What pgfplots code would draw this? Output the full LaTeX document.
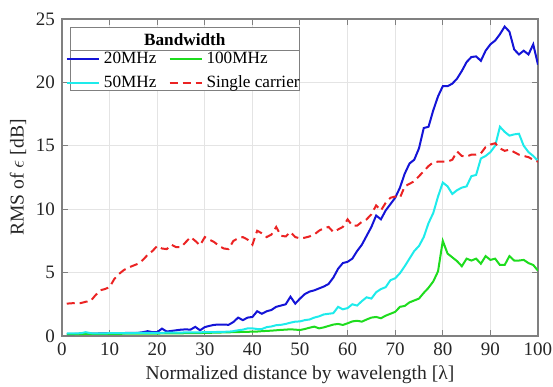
\documentclass[border=0pt]{standalone}
\usepackage{pgfplots}
\pgfplotsset{compat=1.18}
\usepackage{fontspec}
\setmainfont{Liberation Serif}
\definecolor{cBlue}{RGB}{20,20,215}
\definecolor{cCyan}{RGB}{30,235,235}
\definecolor{cGreen}{RGB}{30,220,30}
\definecolor{cRed}{RGB}{235,35,35}
\definecolor{cAxis}{RGB}{128,128,128}
\definecolor{cGrid}{RGB}{228,228,228}
\definecolor{cText}{RGB}{38,38,38}

\pgfplotstableread{
x y
1 0.15
2 0.15
3 0.16
4 0.17
5 0.18
6 0.18
7 0.19
8 0.20
9 0.20
10 0.22
11 0.20
12 0.22
13 0.23
14 0.25
15 0.25
16 0.25
17 0.30
18 0.38
19 0.30
20 0.30
21 0.58
22 0.35
23 0.40
24 0.45
25 0.50
26 0.52
27 0.50
28 0.72
29 0.45
30 0.70
31 0.80
32 0.88
33 0.90
34 0.90
35 0.88
36 1.10
37 1.45
38 1.25
39 1.45
40 1.50
41 1.95
42 1.75
43 1.95
44 2.05
45 2.30
46 2.40
47 2.50
48 3.10
49 2.55
50 2.95
51 3.30
52 3.50
53 3.60
54 3.75
55 3.90
56 4.10
57 4.60
58 5.30
59 5.75
60 5.85
61 6.10
62 6.70
63 7.20
64 7.90
65 8.60
66 9.50
67 9.20
68 9.90
69 10.40
70 10.90
71 11.70
72 12.80
73 13.60
74 13.90
75 14.80
76 16.40
77 16.50
78 17.80
79 18.90
80 19.70
81 19.70
82 19.90
83 20.30
84 20.90
85 21.60
86 22.00
87 22.05
88 21.70
89 22.50
90 23.00
91 23.30
92 23.80
93 24.40
94 24.00
95 22.60
96 22.20
97 22.50
98 22.20
99 23.00
100 21.40
}\tblue

\pgfplotstableread{
x y
1 0.20
2 0.20
3 0.21
4 0.22
5 0.30
6 0.22
7 0.20
8 0.21
9 0.21
10 0.22
11 0.22
12 0.22
13 0.23
14 0.23
15 0.23
16 0.24
17 0.24
18 0.24
19 0.25
20 0.25
21 0.25
22 0.26
23 0.26
24 0.27
25 0.27
26 0.28
27 0.28
28 0.29
29 0.29
30 0.30
31 0.30
32 0.31
33 0.32
34 0.33
35 0.34
36 0.38
37 0.45
38 0.50
39 0.60
40 0.60
41 0.55
42 0.55
43 0.70
44 0.75
45 0.85
46 0.88
47 0.95
48 1.05
49 1.13
50 1.15
51 1.25
52 1.30
53 1.45
54 1.55
55 1.70
56 1.75
57 1.80
58 2.30
59 2.10
60 2.20
61 2.50
62 2.40
63 2.75
64 3.05
65 2.95
66 3.45
67 3.70
68 3.85
69 4.40
70 4.55
71 4.95
72 5.50
73 6.10
74 6.70
75 7.10
76 7.80
77 8.90
78 9.70
79 11.00
80 12.10
81 11.80
82 11.20
83 11.50
84 11.70
85 11.80
86 12.60
87 12.70
88 14.00
89 14.20
90 14.50
91 15.00
92 16.50
93 16.10
94 15.80
95 15.90
96 15.95
97 15.00
98 14.50
99 14.20
100 13.80
}\tcyan

\pgfplotstableread{
x y
1 0.15
2 0.15
3 0.15
4 0.15
5 0.16
6 0.16
7 0.16
8 0.16
9 0.17
10 0.17
11 0.17
12 0.17
13 0.18
14 0.18
15 0.18
16 0.18
17 0.19
18 0.19
19 0.19
20 0.19
21 0.20
22 0.20
23 0.20
24 0.21
25 0.21
26 0.22
27 0.22
28 0.23
29 0.23
30 0.24
31 0.25
32 0.26
33 0.27
34 0.28
35 0.29
36 0.30
37 0.31
38 0.32
39 0.33
40 0.34
41 0.35
42 0.38
43 0.40
44 0.42
45 0.45
46 0.48
47 0.50
48 0.53
49 0.50
50 0.47
51 0.55
52 0.65
53 0.74
54 0.60
55 0.68
56 0.79
57 0.90
58 0.95
59 0.87
60 1.00
61 1.15
62 1.20
63 1.13
64 1.30
65 1.45
66 1.50
67 1.40
68 1.60
69 1.75
70 1.90
71 2.30
72 2.37
73 2.65
74 2.80
75 2.95
76 3.40
77 3.80
78 4.30
79 5.10
80 7.50
81 6.50
82 6.20
83 5.90
84 5.50
85 6.10
86 5.95
87 6.10
88 5.70
89 6.30
90 6.00
91 6.10
92 5.60
93 5.60
94 6.30
95 5.95
96 5.95
97 6.00
98 5.75
99 5.60
100 5.15
}\tgreen

\pgfplotstableread{
x y
1 2.55
2 2.58
3 2.60
4 2.60
5 2.70
6 2.75
7 3.20
8 3.60
9 3.70
10 3.85
11 4.50
12 4.90
13 5.20
14 5.40
15 5.55
16 5.70
17 6.00
18 6.40
19 6.70
20 7.10
21 6.90
22 6.85
23 7.20
24 7.00
25 7.00
26 7.40
27 7.80
28 7.50
29 7.15
30 7.80
31 7.60
32 7.40
33 7.10
34 6.90
35 6.85
36 7.50
37 7.70
38 7.80
39 7.60
40 7.20
41 8.30
42 8.10
43 7.80
44 8.00
45 8.60
46 7.90
47 7.85
48 8.20
49 7.80
50 7.70
51 7.75
52 7.85
53 8.00
54 8.30
55 8.50
56 8.60
57 8.20
58 8.40
59 8.60
60 9.20
61 8.70
62 8.70
63 9.00
64 9.20
65 9.60
66 10.30
67 9.90
68 10.50
69 10.90
70 11.00
71 10.90
72 11.80
73 12.00
74 12.20
75 12.60
76 13.00
77 13.40
78 13.70
79 13.75
80 13.75
81 13.75
82 13.90
83 14.55
84 14.20
85 14.15
86 14.30
87 14.30
88 14.40
89 14.90
90 15.10
91 15.20
92 14.80
93 14.60
94 14.70
95 14.50
96 14.30
97 14.20
98 14.10
99 13.90
100 13.75
}\tred

\begin{document}
\begin{tikzpicture}
\begin{axis}[
  name=ax,
  scale only axis,
  width=238pt, height=158.5pt,
  xmin=0, xmax=100, ymin=0, ymax=25,
  xtick={0,10,...,100}, ytick={0,5,...,25},
  tick align=inside,
  tick pos=both,
  major tick length=3pt,
  grid=major,
  major grid style={cGrid, line width=0.5pt},
  axis line style={cAxis, line width=0.6pt},
  every tick/.style={cAxis, line width=0.5pt},
  tick label style={font=\fontsize{9.5}{11}\selectfont, text=cText},
  /pgf/number format/assume math mode=true,
  xlabel={Normalized distance by wavelength [λ]},
  ylabel={RMS of $\epsilon$ [dB]},
  label style={font=\fontsize{9.8}{11}\selectfont, text=cText},
  xlabel style={yshift=2pt},
  ylabel style={yshift=-2pt},
  legend columns=2,
  legend cell align=left,
  legend style={at={(rel axis cs:0.258,0.835)}, anchor=center,
    draw=none, fill=none, font=\fontsize{8.6}{9.5}\selectfont,
    inner sep=0.5pt, row sep=0.5pt,
    /tikz/every even column/.append style={column sep=4pt}},
  legend image code/.code={\draw[#1] (0pt,0pt) -- (16pt,0pt);},
]
\fill[white] (rel axis cs:0.0189,0.773) rectangle (rel axis cs:0.498,0.9716);
\addplot[cBlue, line width=1pt] table[x=x,y=y] {\tblue};
\addlegendentry{20MHz}
\addplot[cGreen, line width=1pt] table[x=x,y=y] {\tgreen};
\addlegendentry{100MHz}
\addplot[cCyan, line width=1pt] table[x=x,y=y] {\tcyan};
\addlegendentry{50MHz}
\addplot[cRed, line width=1pt, dash pattern=on 4pt off 2.5pt] table[x=x,y=y] {\tred};
\addlegendentry{Single carrier}
\draw[cAxis, line width=0.5pt] (rel axis cs:0.0189,0.773) rectangle (rel axis cs:0.498,0.9716);
\draw[cAxis, line width=0.5pt] (rel axis cs:0.0189,0.902) -- (rel axis cs:0.498,0.902);
\node[font=\fontsize{8.6}{9.5}\selectfont\bfseries, text=black] at (rel axis cs:0.258,0.935) {Bandwidth};
\end{axis}
\pgfresetboundingbox
\path[use as bounding box] ([shift={(-31pt,-25.5pt)}]ax.south west) rectangle ([shift={(7.5pt,9.5pt)}]ax.north east);
\end{tikzpicture}
\end{document}
